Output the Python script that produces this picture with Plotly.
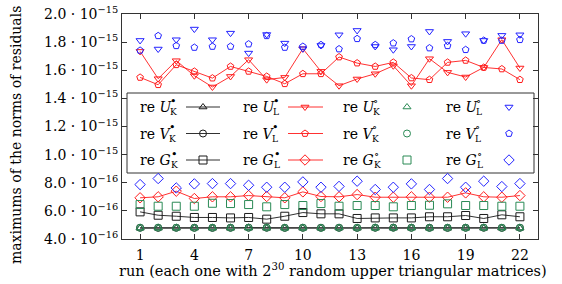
import plotly.graph_objects as go

# ---------------- data (values in units of 1e-16) ----------------
runs = list(range(1, 23))
x_tickvals = [1, 4, 7, 10, 13, 16, 19, 22]
y_tickvals = [4, 6, 8, 10, 12, 14, 16, 18, 20]
y_ticktext = ["4.0 · 10<sup>−16</sup>", "6.0 · 10<sup>−16</sup>", "8.0 · 10<sup>−16</sup>",
              "1.0 · 10<sup>−15</sup>", "1.2 · 10<sup>−15</sup>", "1.4 · 10<sup>−15</sup>",
              "1.6 · 10<sup>−15</sup>", "1.8 · 10<sup>−15</sup>", "2.0 · 10<sup>−15</sup>"]

U_K_full = [4.77, 4.78, 4.77, 4.78, 4.77, 4.77, 4.78, 4.77, 4.78, 4.77, 4.77,
            4.78, 4.77, 4.78, 4.77, 4.78, 4.77, 4.77, 4.78, 4.77, 4.78, 4.77]
V_K_full = [4.80, 4.79, 4.80, 4.80, 4.79, 4.80, 4.81, 4.80, 4.79, 4.80, 4.80,
            4.80, 4.79, 4.80, 4.81, 4.80, 4.80, 4.79, 4.80, 4.80, 4.79, 4.80]
G_K_full = [5.93, 5.69, 5.62, 5.53, 5.53, 5.50, 5.53, 5.41, 5.62, 5.88, 5.79,
            5.79, 5.46, 5.50, 5.50, 5.50, 5.58, 5.58, 5.67, 5.46, 5.72, 5.58]
U_L_full = [17.34, 15.40, 16.68, 15.61, 14.81, 15.56, 16.75, 15.33, 15.49, 17.53, 15.92,
            14.90, 15.38, 15.75, 16.32, 14.90, 16.82, 15.85, 15.52, 16.20, 18.17, 16.16]
V_L_full = [15.49, 14.97, 16.39, 15.92, 15.44, 16.27, 15.92, 15.56, 15.04, 15.75, 15.75,
            16.94, 16.51, 16.27, 16.56, 15.45, 15.33, 16.56, 16.70, 16.20, 16.09, 15.33]
G_L_full = [6.93, 7.00, 7.40, 6.88, 7.00, 7.00, 7.09, 7.02, 6.93, 7.35, 7.02,
            7.00, 7.16, 6.97, 6.97, 7.00, 6.97, 6.97, 7.28, 7.00, 6.97, 7.09]
U_K_empty = [4.78, 4.77, 4.78, 4.79, 4.78, 4.78, 4.79, 4.78, 4.77, 4.78, 4.78,
             4.79, 4.78, 4.77, 4.79, 4.78, 4.78, 4.78, 4.77, 4.78, 4.79, 4.78]
V_K_empty = [4.80, 4.81, 4.80, 4.79, 4.80, 4.80, 4.80, 4.81, 4.80, 4.80, 4.79,
             4.80, 4.80, 4.81, 4.80, 4.80, 4.79, 4.80, 4.80, 4.81, 4.80, 4.80]
G_K_empty = [6.45, 6.33, 6.33, 6.33, 6.54, 6.52, 6.45, 6.29, 6.45, 6.38, 6.52,
             6.33, 6.38, 6.38, 6.29, 6.38, 6.40, 6.50, 6.38, 6.38, 6.33, 6.33]
U_L_empty = [18.12, 17.51, 18.17, 18.93, 18.17, 18.64, 17.22, 18.54, 17.93, 17.53, 17.76,
             18.52, 18.83, 17.69, 17.46, 17.69, 18.76, 18.05, 18.60, 18.12, 18.48, 18.52]
V_L_empty = [17.41, 18.45, 17.74, 17.62, 17.69, 17.69, 17.86, 18.45, 17.62, 17.69, 17.81,
             17.51, 18.24, 17.81, 17.93, 18.22, 17.58, 17.74, 17.46, 18.12, 18.12, 18.17]
G_L_empty = [7.87, 8.30, 7.63, 7.92, 7.94, 7.94, 7.82, 7.68, 7.68, 8.06, 7.68,
             7.74, 8.11, 7.52, 7.68, 7.92, 7.52, 8.30, 7.68, 8.11, 7.73, 7.94]

x_title = "run (each one with 2<sup>30</sup> random upper triangular matrices)"
y_title = "maximums of the norms of residuals"

# ---------------- styles ----------------
FONT = "DejaVu Serif"
BLACK = "#1a1a1a"
RED = "#ff1a1a"
GREEN = "#2a8a55"
BLUE = "#2222ff"

series = [
    # (values, letter, sub, sup, color, symbol, line?)
    (U_K_full, "U", "K", "•", BLACK, "triangle-up-open", True),
    (V_K_full, "V", "K", "•", BLACK, "circle-open", True),
    (G_K_full, "G", "K", "•", BLACK, "square-open", True),
    (U_L_full, "U", "L", "•", RED, "triangle-down-open", True),
    (V_L_full, "V", "L", "•", RED, "pentagon-open", True),
    (G_L_full, "G", "L", "•", RED, "diamond-open", True),
    (U_K_empty, "U", "K", "∘", GREEN, "triangle-up-open", False),
    (V_K_empty, "V", "K", "∘", GREEN, "circle-open", False),
    (G_K_empty, "G", "K", "∘", GREEN, "square-open", False),
    (U_L_empty, "U", "L", "∘", BLUE, "triangle-down-open", False),
    (V_L_empty, "V", "L", "∘", BLUE, "pentagon-open", False),
    (G_L_empty, "G", "L", "∘", BLUE, "diamond-open", False),
]

sizes = {"triangle-up-open": 7, "circle-open": 7, "square-open": 8,
         "triangle-down-open": 7, "pentagon-open": 7, "diamond-open": 8}

# full-window figure; the page body margin is removed after plotting (post_script)
W, H = 562, 284
ML, MR, MT, MB = 122, 24, 14, 45
PW, PH = W - ML - MR, H - MT - MB


def fx(px):  # screen pixel -> paper fraction
    return (px - ML) / PW


def fy(py):
    return (H - MB - py) / PH


fig = go.Figure()

for vals, let, sub, sup, col, sym, line in series:
    fig.add_trace(go.Scatter(
        x=runs, y=vals,
        mode="lines+markers" if line else "markers",
        line=dict(color=col, width=0.9),
        marker=dict(symbol=sym, size=sizes[sym], color=col, line=dict(color=col, width=1)),
        showlegend=False, hoverinfo="skip", cliponaxis=False,
    ))

# ---------------- custom legend (text left of sample) ----------------
box = dict(x0=127, x1=534, y0=93, y1=173)
shapes = [dict(type="rect", xref="paper", yref="paper",
               x0=fx(box["x0"]), x1=fx(box["x1"]), y0=fy(box["y1"]), y1=fy(box["y0"]),
               line=dict(color="#333", width=1), fillcolor="white", layer="below")]

col_text_x = [138, 241, 341, 444]
col_sample = [(186, 220, 203), (288, 323, 305), (None, None, 407), (None, None, 509)]
row_y = [107, 133.5, 160]
letter_w = {"U": 30.0, "V": 29.0, "G": 30.5}

annotations = []
for i, (vals, let, sub, sup, col, sym, line) in enumerate(series):
    c, r = i // 3, i % 3
    tx, ty = col_text_x[c], row_y[r]
    annotations.append(dict(xref="paper", yref="paper", x=fx(tx), y=fy(ty),
                            xanchor="left", yanchor="middle", showarrow=False,
                            text="re <i>%s</i>" % let, font=dict(family=FONT, size=14, color="black")))
    sx = tx + letter_w[let]
    annotations.append(dict(xref="paper", yref="paper", x=fx(sx), y=fy(ty - 6),
                            xanchor="left", yanchor="middle", showarrow=False,
                            text=sup, font=dict(family=FONT, size=11, color="black")))
    annotations.append(dict(xref="paper", yref="paper", x=fx(sx), y=fy(ty + 5),
                            xanchor="left", yanchor="middle", showarrow=False,
                            text=sub, font=dict(family=FONT, size=9, color="black")))
    lx0, lx1, mx = col_sample[c]
    if line:
        fig.add_trace(go.Scatter(x=[fx(lx0), fx(lx1)], y=[fy(ty), fy(ty)], mode="lines",
                                 line=dict(color=col, width=0.9), xaxis="x2", yaxis="y2",
                                 showlegend=False, hoverinfo="skip"))
    fig.add_trace(go.Scatter(x=[fx(mx)], y=[fy(ty)], mode="markers",
                             marker=dict(symbol=sym, size=sizes[sym], color=col,
                                         line=dict(color=col, width=1)),
                             xaxis="x2", yaxis="y2", showlegend=False, hoverinfo="skip"))

# axis titles as annotations placed like the reference
annotations.append(dict(xref="paper", yref="paper", x=fx(16), y=fy(135), textangle=-90,
                        xanchor="center", yanchor="middle", showarrow=False, text=y_title,
                        font=dict(family=FONT, size=14, color="black")))
annotations.append(dict(xref="paper", yref="paper", x=fx(333), y=fy(270),
                        xanchor="center", yanchor="middle", showarrow=False, text=x_title,
                        font=dict(family=FONT, size=14.5, color="black")))

fig.update_layout(
    width=W, height=H,
    margin=dict(l=ML, r=MR, t=MT, b=MB, autoexpand=False),
    paper_bgcolor="white", plot_bgcolor="white",
    font=dict(family=FONT, size=14, color="black"),
    shapes=shapes, annotations=annotations,
    hovermode=False,
    xaxis=dict(range=[0, 23], tickvals=x_tickvals, ticks="inside", ticklen=5, automargin=False,
               tickcolor="#333", showline=True, linecolor="#333", linewidth=1, mirror="ticks",
               showgrid=False, zeroline=False, tickfont=dict(family=FONT, size=14),
               ticklabelstandoff=3, ticklabeloverflow="allow"),
    yaxis=dict(range=[4, 20], tickvals=y_tickvals, ticktext=y_ticktext, ticks="inside", ticklen=5,
               automargin=False, ticklabeloverflow="allow",
               tickcolor="#333", showline=True, linecolor="#333", linewidth=1, mirror="ticks",
               showgrid=False, zeroline=False, tickfont=dict(family=FONT, size=14)),
    xaxis2=dict(overlaying="x", range=[0, 1], visible=False, anchor="y2"),
    yaxis2=dict(overlaying="y", range=[0, 1], visible=False, anchor="x2"),
)

fig.write_html(
    "out.html",
    config={"displayModeBar": False, "staticPlot": True},
    post_script="document.body.style.margin='0px';document.body.style.overflow='hidden';",
)
